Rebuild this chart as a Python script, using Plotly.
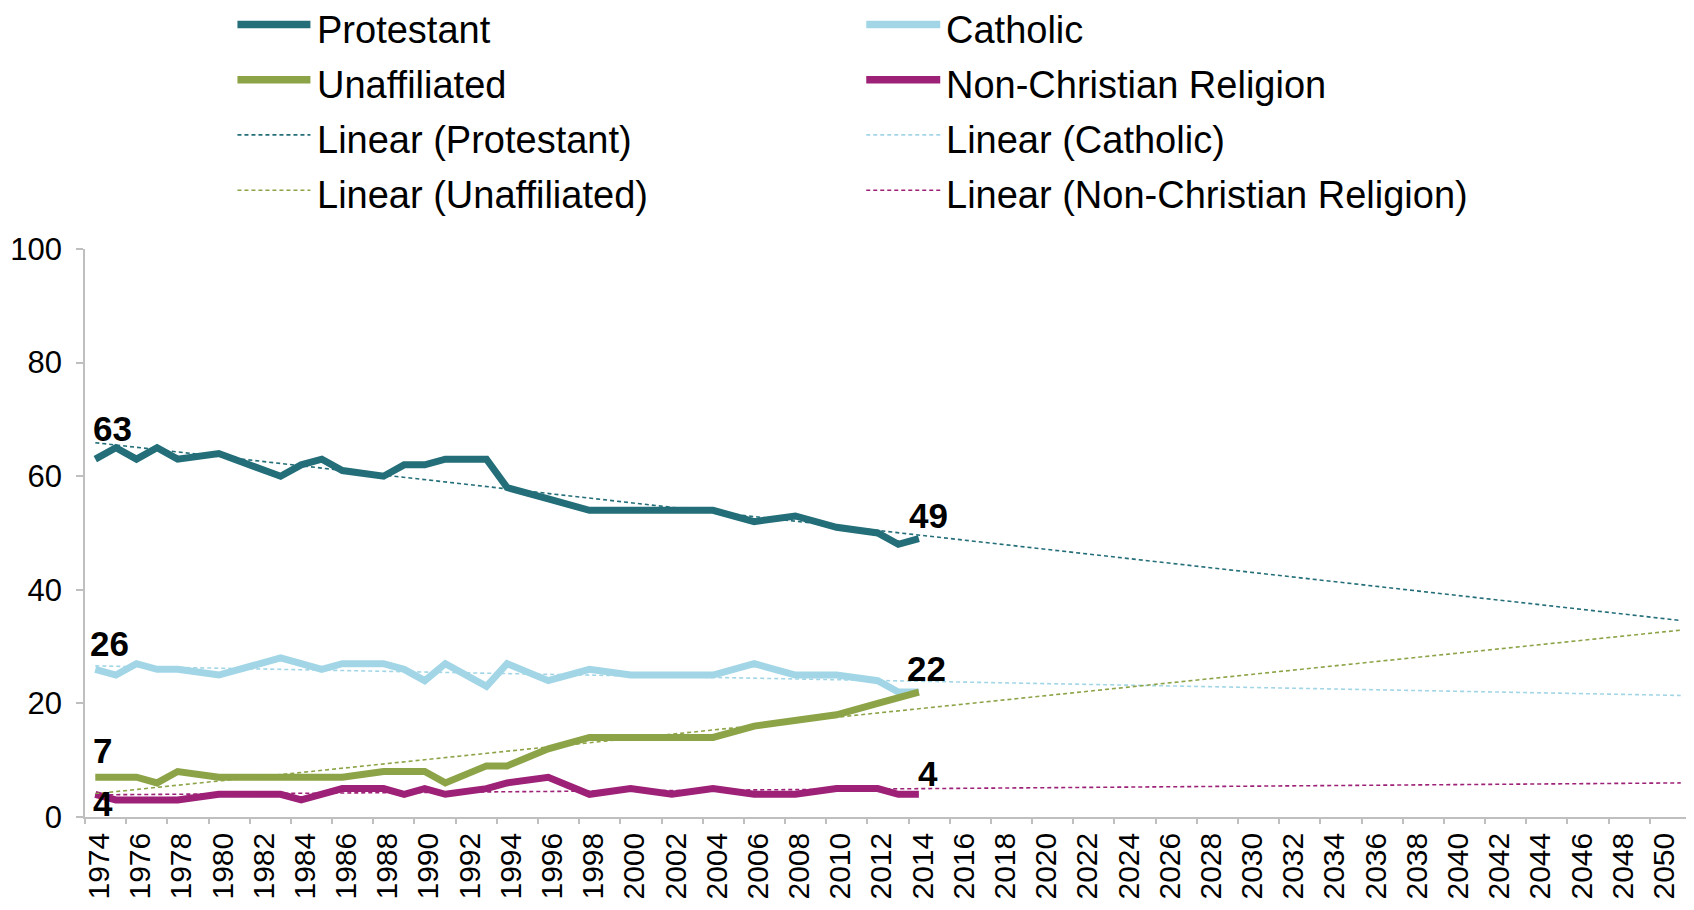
import plotly.graph_objects as go

# survey years (gaps are joined by the line)
years = [1974, 1975, 1976, 1977, 1978, 1980, 1983, 1984, 1985, 1986, 1988, 1989, 1990,
         1991, 1993, 1994, 1996, 1998, 2000, 2002, 2004, 2006, 2008, 2010, 2012, 2013, 2014]

protestant = [63, 65, 63, 65, 63, 64, 60, 62, 63, 61, 60, 62, 62,
              63, 63, 58, 56, 54, 54, 54, 54, 52, 53, 51, 50, 48, 49]
catholic = [26, 25, 27, 26, 26, 25, 28, 27, 26, 27, 27, 26, 24,
            27, 23, 27, 24, 26, 25, 25, 25, 27, 25, 25, 24, 22, 22]
unaffiliated = [7, 7, 7, 6, 8, 7, 7, 7, 7, 7, 8, 8, 8,
                6, 9, 9, 12, 14, 14, 14, 14, 16, 17, 18, 20, 21, 22]
non_christian = [4, 3, 3, 3, 3, 4, 4, 3, 4, 5, 5, 4, 5,
                 4, 5, 6, 7, 4, 5, 4, 5, 4, 4, 5, 5, 4, 4]

# linear trendlines, read at both ends
trend_years = [1974, 2051]
protestant_trend = [65.9, 34.6]
catholic_trend = [26.6, 21.4]
unaffiliated_trend = [4.1, 32.9]
non_christian_trend = [3.9, 6.0]

tick_years = list(range(1974, 2051, 2))
tick_labels = [str(y) for y in tick_years]

COLORS = {
    "Protestant": "#236E78",
    "Catholic": "#A2D6E6",
    "Unaffiliated": "#8CA447",
    "Non-Christian Religion": "#9D2177",
}
AXIS = "#BFBFBF"
FONT = "Liberation Sans, Arial, Helvetica, sans-serif"

# page has an 8px body margin, so the figure is laid out 8px up/left
OFF = 8
W, H = 1694, 910
L, T = 76.5, 241.3
PW, PH = 1683 - L, 809.3 - T
R, B = W - L - PW, H - T - PH


def px_x(px):
    return (px - OFF - L) / PW


def px_y(py):
    return (T + PH - (py - OFF)) / PH


series = [
    ("Protestant", protestant, protestant_trend),
    ("Catholic", catholic, catholic_trend),
    ("Unaffiliated", unaffiliated, unaffiliated_trend),
    ("Non-Christian Religion", non_christian, non_christian_trend),
]

fig = go.Figure()

for name, vals, trend in series:
    fig.add_trace(go.Scatter(
        x=years, y=vals, mode="lines", name=name,
        line=dict(color=COLORS[name], width=7),
        showlegend=False,
    ))

for name, vals, trend in series:
    fig.add_trace(go.Scatter(
        x=trend_years, y=trend, mode="lines", name="Linear (%s)" % name,
        line=dict(color=COLORS[name], width=1.6, dash="4px,3px"),
        showlegend=False,
    ))

# tick marks sit between category pairs, on a helper axis
fig.add_trace(go.Scatter(x=[None], y=[None], xaxis="x2", showlegend=False))

# data labels: (x, value, yshift px, xshift px)
labels = [
    (years[0], protestant[0], 31, -4),
    (years[0], catholic[0], 26, -7),
    (years[0], unaffiliated[0], 27, -4),
    (years[0], non_christian[0], -9, -4),
    (years[-1], protestant[-1], 23, -12),
    (years[-1], catholic[-1], 24, -14),
    (years[-1], non_christian[-1], 21, -3),
]
for x, v, dy, dx in labels:
    fig.add_annotation(
        x=x, y=v, text="<b>%d</b>" % v, showarrow=False,
        xanchor="left", yanchor="middle", xshift=dx, yshift=dy,
        font=dict(family=FONT, size=35, color="black"),
    )

# legend, two columns (reference pixel positions)
legend_items = [
    ("Protestant", True), ("Catholic", True),
    ("Unaffiliated", True), ("Non-Christian Religion", True),
    ("Protestant", False), ("Catholic", False),
    ("Unaffiliated", False), ("Non-Christian Religion", False),
]
line_rows = [24.7, 80.0, 135.2, 190.5]
text_rows = [30.0, 85.3, 140.5, 195.8]
cols = [(237, 310, 315), (866, 940, 944)]
for i, (name, solid) in enumerate(legend_items):
    x0, x1, xt = cols[i % 2]
    row = i // 2
    fig.add_shape(
        type="line", xref="paper", yref="paper",
        x0=px_x(x0), x1=px_x(x1), y0=px_y(line_rows[row]), y1=px_y(line_rows[row]),
        line=dict(color=COLORS[name], width=7.5 if solid else 1.6,
                  dash="solid" if solid else "4px,3px"),
    )
    fig.add_annotation(
        xref="paper", yref="paper", x=px_x(xt), y=px_y(text_rows[row]),
        text=name if solid else "Linear (%s)" % name,
        showarrow=False, xanchor="left", yanchor="middle",
        font=dict(family=FONT, size=38, color="black"),
    )

fig.update_layout(
    width=W, height=H,
    margin=dict(l=L, r=R, t=T, b=B),
    paper_bgcolor="white", plot_bgcolor="white",
    font=dict(family=FONT, color="black"),
    showlegend=False,
    xaxis=dict(
        range=[1973.5, 2051.5], tickvals=tick_years, ticktext=tick_labels,
        tickangle=-90, ticks="", showgrid=False, zeroline=False,
        showline=True, linecolor=AXIS, linewidth=1.5,
        tickfont=dict(family=FONT, size=30, color="black"),
        ticklabelstandoff=2, ticklabelshift=4, automargin=False,
    ),
    xaxis2=dict(
        range=[1973.5, 2051.5], overlaying="x", anchor="y", side="bottom",
        tickvals=[y - 0.5 for y in tick_years] + [2051.5],
        showticklabels=False, ticks="outside", ticklen=6, tickwidth=1.5,
        tickcolor=AXIS, showgrid=False, zeroline=False, showline=False,
    ),
    yaxis=dict(
        range=[0, 100], dtick=20, ticks="outside", ticklen=7, tickwidth=1.5,
        tickcolor=AXIS, showgrid=False, zeroline=False,
        showline=True, linecolor=AXIS, linewidth=1.5,
        tickfont=dict(family=FONT, size=31, color="black"),
        ticklabelstandoff=8, automargin=False,
    ),
)

fig.write_html("out.html")
